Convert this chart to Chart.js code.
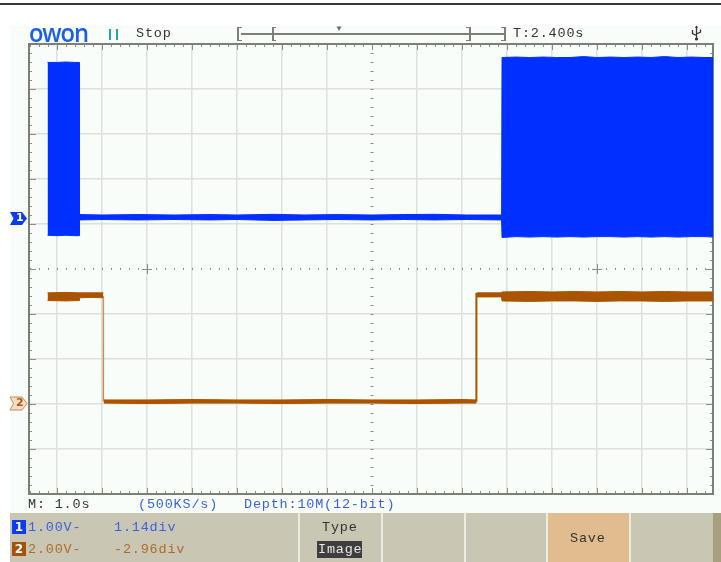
<!DOCTYPE html>
<html><head><meta charset="utf-8">
<script src="https://cdn.jsdelivr.net/npm/chart.js@4"></script>
<style>
html,body{margin:0;padding:0;background:#fff;width:721px;height:562px;overflow:hidden}
#topline{position:absolute;left:0;top:3px;width:721px;height:1.5px;background:#3a3a3a}
#screen{position:absolute;left:10px;top:25px;width:711px;height:488px;background:#f9fdf9}
#panel{position:absolute;left:10px;top:513px;width:711px;height:49px;background:#c9c7b3}
canvas{position:absolute;left:0;top:0}
.t{position:absolute;font:13.5px "Liberation Mono",monospace;letter-spacing:.8px;white-space:pre;line-height:14px;color:#333}
.sep{position:absolute;top:513px;height:49px;width:1.5px;background:#ecebe0}
.bk{position:absolute;background:#7c7f74}
</style></head><body>
<div id="topline"></div><div id="screen"></div><div id="panel"></div>
<div class="sep" style="left:298px"></div><div class="sep" style="left:381px"></div>
<div class="sep" style="left:464px"></div><div class="sep" style="left:546px"></div>
<div class="sep" style="left:629px"></div>
<div style="position:absolute;left:547.5px;top:513px;width:81.5px;height:49px;background:#e0bc8e"></div>
<div style="position:absolute;left:713px;top:513px;width:8px;height:49px;background:#a89f7e"></div>
<canvas id="c" width="721" height="562"></canvas>

<div style="position:absolute;left:29px;top:17px;font:600 25px/30px 'Open Sans',sans-serif;color:#1a5fe8;transform:scaleX(.95);transform-origin:left;letter-spacing:-1.2px">owon</div>
<div style="position:absolute;left:109px;top:29px;width:2px;height:11px;background:#1fa8a0"></div>
<div style="position:absolute;left:116px;top:29px;width:2px;height:11px;background:#1fa8a0"></div>
<div class="t" style="left:136px;top:27px">Stop</div>
<div class="bk" style="left:237px;top:27px;width:2px;height:14px"></div><div class="bk" style="left:237px;top:27px;width:5px;height:1px"></div><div class="bk" style="left:237px;top:40px;width:5px;height:1px"></div>
<div class="bk" style="left:241px;top:33px;width:264px;height:1.5px"></div>
<div class="bk" style="left:272px;top:27px;width:2px;height:14px"></div><div class="bk" style="left:272px;top:27px;width:4px;height:1px"></div><div class="bk" style="left:272px;top:40px;width:4px;height:1px"></div>
<div class="bk" style="left:469px;top:27px;width:2px;height:14px"></div><div class="bk" style="left:466px;top:27px;width:4px;height:1px"></div><div class="bk" style="left:466px;top:40px;width:4px;height:1px"></div>
<div class="bk" style="left:504px;top:27px;width:2px;height:14px"></div><div class="bk" style="left:501px;top:27px;width:4px;height:1px"></div><div class="bk" style="left:501px;top:40px;width:4px;height:1px"></div>
<svg style="position:absolute;left:336px;top:26px" width="7" height="6"><path d="M0.5 0.5H5.5L3 5Z" fill="#6d7068"/></svg>
<div class="t" style="left:513px;top:27px">T:2.400s</div>
<svg style="position:absolute;left:690px;top:25px" width="13" height="16"><path d="M6.5 1V15M2.5 5V8.5L6.5 10.5M10.5 4.5V7L6.5 9" stroke="#333" stroke-width="1.3" fill="none"/><path d="M5 3L6.5 .5L8 3Z" fill="#333"/><circle cx="6.5" cy="14" r="1.6" fill="#333"/></svg>

<svg style="position:absolute;left:9px;top:211px" width="20" height="15"><path d="M1 1H13L18 7.5L13 14H1L4.5 7.5Z" fill="#0a3cf0"/></svg>
<div class="t" style="left:16px;top:211px;color:#fff;font:700 11px/14px 'DejaVu Sans',sans-serif;letter-spacing:0">1</div>
<svg style="position:absolute;left:9px;top:396px" width="20" height="15"><path d="M1 1H13L18 7.5L13 14H1L4.5 7.5Z" fill="#f5dcc4" stroke="#c98b55" stroke-width="1"/></svg>
<div class="t" style="left:16px;top:396px;color:#a85a14;font:700 11px/14px 'DejaVu Sans',sans-serif;letter-spacing:0">2</div>

<div class="t" style="left:28px;top:498px">M: 1.0s</div>
<div class="t" style="left:138px;top:498px;color:#3a62e0">(500KS/s)</div>
<div class="t" style="left:244px;top:498px;color:#3a62e0">Depth:10M(12-bit)</div>
<div style="position:absolute;left:12px;top:520px;width:14px;height:14px;background:#0a3cf0;color:#fff;font:700 12px/14px 'DejaVu Sans',sans-serif;text-align:center">1</div>
<div style="position:absolute;left:12px;top:542px;width:14px;height:14px;background:#a85008;color:#fff;font:700 12px/14px 'DejaVu Sans',sans-serif;text-align:center">2</div>
<div class="t" style="left:28px;top:521px;color:#3a62e0">1.00V-</div>
<div class="t" style="left:114px;top:521px;color:#3a62e0">1.14div</div>
<div class="t" style="left:28px;top:543px;color:#b06a2c">2.00V-</div>
<div class="t" style="left:114px;top:543px;color:#b06a2c">-2.96div</div>
<div class="t" style="left:322px;top:521px">Type</div>
<div style="position:absolute;left:317px;top:541px;width:45px;height:17px;background:#3e3e3e"></div>
<div class="t" style="left:318px;top:543px;color:#e8e8e8">Image</div>
<div class="t" style="left:570px;top:532px">Save</div>

<script>
// Horizontal axis: divisions from screen centre. Vertical axis: divisions from screen centre.
const xGridDivs = [-7,-6,-5,-4,-3,-2,-1,0,1,2,3,4,5,6,7];
const yGridDivs = [-5,-4,-3,-2,-1,0,1,2,3,4,5];

const ch1Time  = [-7.21,-7.0,-6.8,-6.6,-6.51,-6.5,-6,-5.2,-4.4,-3.6,-3,-2.2,-1.5,-0.8,0,0.7,1.4,2.1,2.88,2.89,3.2,3.5,3.8,4.1,4.4,4.7,5,5.3,5.6,5.9,6.2,6.5,6.8,7.1,7.4,7.58];
const ch1Upper = [4.59,4.59,4.60,4.59,4.59,1.21,1.2,1.21,1.2,1.21,1.2,1.215,1.2,1.21,1.2,1.21,1.215,1.2,1.2,4.7,4.71,4.7,4.71,4.7,4.7,4.72,4.7,4.71,4.7,4.71,4.7,4.72,4.7,4.71,4.7,4.7];
const ch1Lower = [0.75,0.74,0.75,0.74,0.74,1.09,1.1,1.09,1.1,1.09,1.1,1.08,1.09,1.1,1.09,1.1,1.09,1.1,1.09,0.7,0.72,0.71,0.72,0.71,0.72,0.71,0.72,0.72,0.71,0.72,0.71,0.72,0.71,0.72,0.72,0.71];

const ch2Time  = [-7.21,-6.8,-6.51,-6.5,-6.2,-5.97,-5.96,-5,-4,-3,-2,-1,0,1,2,2.32,2.33,2.6,2.88,2.89,3.5,4,4.5,5,5.5,6,6.5,7,7.58];
const ch2Upper = [-0.53,-0.52,-0.53,-0.53,-0.53,-0.53,-2.91,-2.91,-2.9,-2.91,-2.91,-2.9,-2.91,-2.91,-2.9,-2.91,-0.53,-0.53,-0.53,-0.51,-0.5,-0.51,-0.5,-0.51,-0.5,-0.51,-0.5,-0.51,-0.51];
const ch2Lower = [-0.7,-0.71,-0.7,-0.64,-0.63,-0.64,-2.98,-2.99,-2.98,-2.98,-2.99,-2.98,-2.98,-2.99,-2.98,-2.98,-0.62,-0.62,-0.62,-0.71,-0.72,-0.71,-0.71,-0.72,-0.71,-0.71,-0.72,-0.71,-0.71];

const ch2FallTime = [-5.97,-5.97];
const ch2FallLevel = [-0.6,-2.95];
const ch2RiseTime = [2.32,2.32];
const ch2RiseLevel = [-2.95,-0.53];

const pts = (xs, ys) => xs.map((x, i) => ({x, y: ys[i]}));
const BLUE = '#0030ff', BROWN = '#aa5400', GRID = '#e0e0da';
const hideJump = c => Math.abs(c.p0.parsed.y - c.p1.parsed.y) > 1 ? 'transparent' : BROWN;
const gridColor = c => (c.tick && c.tick.value === 0) ? 'transparent' : GRID;

const marks = {
  id: 'marks',
  beforeDatasetsDraw(chart) {
    const {ctx, chartArea: a, scales: {x, y}} = chart;
    const minor = 0.2;
    ctx.save();
    ctx.strokeStyle = '#8a8e84';
    ctx.lineWidth = 1;
    for (let i = -38; i <= 38; i++) {
      const v = i * minor, p = Math.round(x.getPixelForValue(v)) + .5;
      if (p < a.left || p > a.right) continue;
      const L = i % 5 === 0 ? 6 : 3;
      ctx.beginPath();
      ctx.moveTo(p, a.top); ctx.lineTo(p, a.top + L);
      ctx.moveTo(p, a.bottom); ctx.lineTo(p, a.bottom - L);
      ctx.moveTo(p, y.getPixelForValue(0) - 1); ctx.lineTo(p, y.getPixelForValue(0) + 1);
      ctx.stroke();
    }
    for (let i = -25; i <= 25; i++) {
      const v = i * minor, p = Math.round(y.getPixelForValue(v)) + .5;
      const L = i % 5 === 0 ? 7 : 3;
      ctx.beginPath();
      ctx.moveTo(a.left, p); ctx.lineTo(a.left + L, p);
      ctx.moveTo(a.right, p); ctx.lineTo(a.right - L, p);
      const c = x.getPixelForValue(0);
      ctx.moveTo(c - 1.5, p); ctx.lineTo(c + 1.5, p);
      ctx.stroke();
    }
    [-5, 5].forEach(v => {
      const px = x.getPixelForValue(v), py = y.getPixelForValue(0);
      ctx.beginPath();
      ctx.moveTo(px - 5, py + .5); ctx.lineTo(px + 5, py + .5);
      ctx.moveTo(px + .5, py - 5); ctx.lineTo(px + .5, py + 5);
      ctx.stroke();
    });
    ctx.strokeStyle = '#7c7f74';
    ctx.lineWidth = 2;
    ctx.strokeRect(a.left, a.top, a.right - a.left, a.bottom - a.top);
    ctx.restore();
  }
};

new Chart(document.getElementById('c'), {
  type: 'line',
  plugins: [marks],
  data: { datasets: [
    {label:'CH1 max', data: pts(ch1Time, ch1Upper), borderColor: BLUE, borderWidth: 1, pointRadius: 0, tension: 0, fill: false},
    {label:'CH1 min', data: pts(ch1Time, ch1Lower), borderColor: BLUE, borderWidth: 1, pointRadius: 0, tension: 0, fill: '-1', backgroundColor: BLUE},
    {label:'CH2 max', data: pts(ch2Time, ch2Upper), borderColor: BROWN, borderWidth: 1, pointRadius: 0, tension: 0, fill: false, segment:{borderColor: hideJump}},
    {label:'CH2 min', data: pts(ch2Time, ch2Lower), borderColor: BROWN, borderWidth: 1, pointRadius: 0, tension: 0, fill: '-1', backgroundColor: BROWN, segment:{borderColor: hideJump}},
    {label:'CH2 fall', data: pts(ch2FallTime, ch2FallLevel), borderColor: '#c9986f', borderWidth: 1.6, pointRadius: 0},
    {label:'CH2 rise', data: pts(ch2RiseTime, ch2RiseLevel), borderColor: BROWN, borderWidth: 2, pointRadius: 0}
  ]},
  options: {
    responsive: false, animation: false, devicePixelRatio: 1,
    layout: { padding: {left: 29, right: 8, top: 44, bottom: 68} },
    plugins: { legend: {display: false}, tooltip: {enabled: false}, title: {display: false},
      filler: {propagate: false} },
    scales: {
      x: { type: 'linear', min: -7.622, max: 7.578,
        afterBuildTicks: s => { s.ticks = xGridDivs.map(value => ({value})); },
        ticks: {display: false},
        grid: {color: gridColor, lineWidth: 1.5, drawTicks: false},
        border: {display: true, color: '#7c7f74', width: 2} },
      y: { type: 'linear', min: -5, max: 5,
        afterBuildTicks: s => { s.ticks = yGridDivs.map(value => ({value})); },
        ticks: {display: false},
        grid: {color: gridColor, lineWidth: 1.5, drawTicks: false},
        border: {display: true, color: '#7c7f74', width: 2} }
    }
  }
});
</script>
</body></html>
